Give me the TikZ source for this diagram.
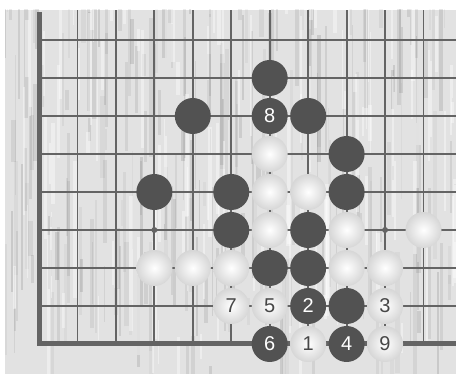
\documentclass[tikz,border=0pt]{standalone}
\usepackage{fontspec}
\setmainfont{Liberation Sans}
\definecolor{stoneblack}{RGB}{82,82,82}
\definecolor{gridgray}{RGB}{100,100,100}
\definecolor{bgwood}{RGB}{226,226,226}
\begin{document}
\begin{tikzpicture}[x=1pt,y=1pt,
  numfont/.style={font=\fontsize{20}{20}\selectfont},
  bk/.style={circle,fill=stoneblack,minimum size=36pt,inner sep=0pt,text=white,numfont},
  wt/.style={circle,shade,inner color=white,middle color=white,outer color=black!16,minimum size=36pt,inner sep=0pt,text=black!72,numfont},
  gl/.style={draw=gridgray,line width=1.8pt},
  edgeline/.style={draw=gridgray,line width=5pt},
  star/.style={circle,fill=gridgray,minimum size=6pt,inner sep=0pt}]
\useasboundingbox (0,0) rectangle (456,374);
\fill[white] (0,0) rectangle (456,374);
\begin{scope}
\clip (5,0) rectangle (456,364);
\fill[bgwood] (5,0) rectangle (456,364);
\pgfmathsetseed{11}
\foreach \i in {1,...,220}{
  \pgfmathsetmacro\xx{5+451*rnd}
  \pgfmathsetmacro\ya{-20+384*rnd}
  \pgfmathsetmacro\len{20+140*rnd}
  \pgfmathsetmacro\lw{1.2+3.5*rnd}
  \pgfmathsetmacro\op{0.03+0.08*rnd}
  \draw[black,opacity=\op,line width=\lw pt] (\xx,\ya) -- ++(0,\len);
}
\foreach \i in {1,...,120}{
  \pgfmathsetmacro\xx{5+451*rnd}
  \pgfmathsetmacro\ya{-20+384*rnd}
  \pgfmathsetmacro\len{20+120*rnd}
  \pgfmathsetmacro\lw{1+3*rnd}
  \draw[white,opacity=0.4,line width=\lw pt] (\xx,\ya) -- ++(0,\len);
}
\end{scope}
\begin{scope}[shift={(39,30)},x=38.45pt,y=38pt]
  % grid
  \foreach \c in {1,...,10}{ \draw[gl] (\c,0) -- (\c,8.79); }
  \foreach \r in {1,...,8}{ \draw[gl] (0,\r) -- (10.85,\r); }
  \draw[edgeline] (0,8.74) -- (0,0) -- (10.85,0);
  \node[star] (h1) at (3,3) {};
  \node[star] (h2) at (9,3) {};
  % black stones
  \node[bk] (b67) at (6,7) {};
  \node[bk] (b46) at (4,6) {};
  \node[bk] (b66) at (6,6) {8};
  \node[bk] (b76) at (7,6) {};
  \node[bk] (b85) at (8,5) {};
  \node[bk] (b34) at (3,4) {};
  \node[bk] (b54) at (5,4) {};
  \node[bk] (b84) at (8,4) {};
  \node[bk] (b53) at (5,3) {};
  \node[bk] (b73) at (7,3) {};
  \node[bk] (b62) at (6,2) {};
  \node[bk] (b72) at (7,2) {};
  \node[bk] (b71) at (7,1) {2};
  \node[bk] (b81) at (8,1) {};
  \node[bk] (b60) at (6,0) {6};
  \node[bk] (b80) at (8,0) {4};
  % white stones
  \node[wt] (w65) at (6,5) {};
  \node[wt] (w64) at (6,4) {};
  \node[wt] (w74) at (7,4) {};
  \node[wt] (w63) at (6,3) {};
  \node[wt] (w83) at (8,3) {};
  \node[wt] (w103) at (10,3) {};
  \node[wt] (w32) at (3,2) {};
  \node[wt] (w42) at (4,2) {};
  \node[wt] (w52) at (5,2) {};
  \node[wt] (w82) at (8,2) {};
  \node[wt] (w92) at (9,2) {};
  \node[wt] (w51) at (5,1) {7};
  \node[wt] (w61) at (6,1) {5};
  \node[wt] (w91) at (9,1) {3};
  \node[wt] (w70) at (7,0) {1};
  \node[wt] (w90) at (9,0) {9};
\end{scope}
\end{tikzpicture}
\end{document}
